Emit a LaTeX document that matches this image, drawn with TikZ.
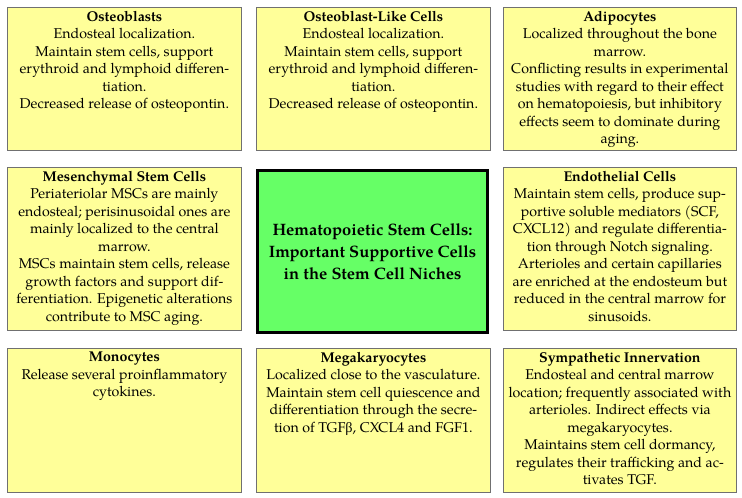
\documentclass[tikz,border=0pt]{standalone}
\usepackage{fontspec}
\setmainfont{texgyrepagella}[Extension=.otf, UprightFont=*-regular, BoldFont=*-bold, ItalicFont=*-italic, BoldItalicFont=*-bolditalic]
\newfontfamily\grk{Liberation Serif}
\definecolor{boxyellow}{HTML}{FFFF99}
\definecolor{boxgreen}{HTML}{66FF66}
\definecolor{boxgrey}{HTML}{707070}
\begin{document}
\begin{tikzpicture}[x=1pt,y=-1pt,
  cellbox/.style={draw=boxgrey, line width=0.8pt, fill=boxyellow, anchor=north west, inner sep=0pt},
  hubbox/.style={draw=black, line width=3pt, fill=boxgreen, anchor=north west, inner sep=0pt},
  celltext/.style={anchor=north, align=center, inner sep=0pt, font=\fontsize{14.2}{17.5}\selectfont, yshift=-4pt},
  hubtext/.style={align=center, inner sep=0pt, font=\fontsize{16.5}{22}\selectfont\bfseries}]
\useasboundingbox (0,0) rectangle (742,498);
% row 1
\node[cellbox, minimum width=234pt, minimum height=143pt] (ob) at (7,7) {};
\node[cellbox, minimum width=234pt, minimum height=143pt] (obl) at (256,7) {};
\node[cellbox, minimum width=233pt, minimum height=143pt] (ad) at (503,7) {};
% row 2
\node[cellbox, minimum width=234pt, minimum height=163pt] (msc) at (7,167) {};
\node[hubbox, minimum width=230pt, minimum height=162pt] (hsc) at (256,169) {};
\node[cellbox, minimum width=233pt, minimum height=163pt] (ec) at (503,167) {};
% row 3
\node[cellbox, minimum width=234pt, minimum height=144pt] (mo) at (7,348) {};
\node[cellbox, minimum width=234pt, minimum height=144pt] (mk) at (256,348) {};
\node[cellbox, minimum width=233pt, minimum height=144pt] (si) at (503,348) {};
% texts
\node[celltext] (tob) at (ob.north) {\textbf{Osteoblasts}\\Endosteal localization.\\Maintain stem cells, support\\erythroid and lymphoid differen-\\tiation.\\Decreased release of osteopontin.};
\node[celltext] (tobl) at (obl.north) {\textbf{Osteoblast-Like Cells}\\Endosteal localization.\\Maintain stem cells, support\\erythroid and lymphoid differen-\\tiation.\\Decreased release of osteopontin.};
\node[celltext] (tad) at (ad.north) {\textbf{Adipocytes}\\Localized throughout the bone\\marrow.\\Conflicting results in experimental\\studies with regard to their effect\\on hematopoiesis, but inhibitory\\effects seem to dominate during\\aging.};
\node[celltext] (tmsc) at (msc.north) {\textbf{Mesenchymal Stem Cells}\\Periateriolar MSCs are mainly\\endosteal; perisinusoidal ones are\\mainly localized to the central\\marrow.\\MSCs maintain stem cells, release\\growth factors and support dif-\\ferentiation. Epigenetic alterations\\contribute to MSC aging.};
\node[hubtext] (thsc) at (hsc.center) {Hematopoietic Stem Cells:\\Important Supportive Cells\\in the Stem Cell Niches};
\node[celltext] (tec) at (ec.north) {\textbf{Endothelial Cells}\\Maintain stem cells, produce sup-\\portive soluble mediators (SCF,\\CXCL12) and regulate differentia-\\tion through Notch signaling.\\Arterioles and certain capillaries\\are enriched at the endosteum but\\reduced in the central marrow for\\sinusoids.};
\node[celltext] (tmo) at (mo.north) {\textbf{Monocytes}\\Release several proinflammatory\\cytokines.};
\node[celltext] (tmk) at (mk.north) {\textbf{Megakaryocytes}\\Localized close to the vasculature.\\Maintain stem cell quiescence and\\differentiation through the secre-\\tion of TGF{\grk β}, CXCL4 and FGF1.};
\node[celltext] (tsi) at (si.north) {\textbf{Sympathetic Innervation}\\Endosteal and central marrow\\location; frequently associated with\\arterioles. Indirect effects via\\megakaryocytes.\\Maintains stem cell dormancy,\\regulates their trafficking and ac-\\tivates TGF.};
\end{tikzpicture}
\end{document}
